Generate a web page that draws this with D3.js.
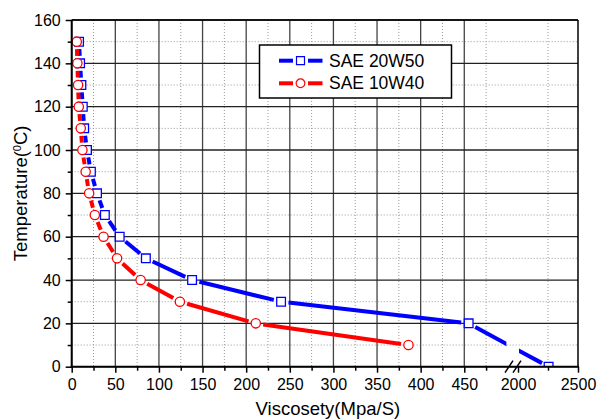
<!DOCTYPE html>
<html>
<head>
<meta charset="utf-8">
<script src="https://cdn.jsdelivr.net/npm/d3@7"></script>
<style>
  body { margin: 0; background: #fff; }
  svg { font-family: "Liberation Sans", Arial, sans-serif; }
</style>
</head>
<body>
<div class="chart"></div>
<script>
// temperature (°C) vs viscosity for the two oils
var temp20w50 = [0, 20, 30, 40, 50, 60, 70, 80, 90, 100, 110, 120, 130, 140, 150];
var visc20w50 = [2255, 455, 240, 138, 85, 55, 38, 29, 22, 17.5, 14.3, 12.7, 11.1, 9.6, 8.4];
var temp10w40 = [10, 20, 30, 40, 50, 60, 70, 80, 90, 100, 110, 120, 130, 140, 150];
var visc10w40 = [386, 211, 124, 79, 52, 36.5, 26.5, 20, 16, 12.3, 10.4, 8.1, 7.3, 6.5, 5.8];

var xMajorLo = [0, 50, 100, 150, 200, 250, 300, 350, 400, 450];
var xMinorLo = [25, 75, 125, 175, 225, 275, 325, 375, 425, 475];
var xMajorHi = [2000, 2500];
var xMinorHi = [2250];
var yMajor = [0, 20, 40, 60, 80, 100, 120, 140, 160];
var yMinor = [10, 30, 50, 70, 90, 110, 130, 150];

var series = [
  {name: "SAE 20W50", color: "#0000ff", symbol: "square", x: visc20w50, y: temp20w50},
  {name: "SAE 10W40", color: "#ff0000", symbol: "circle", x: visc10w40, y: temp10w40}
];

var W = 599, H = 419;
var pL = 71.7, pR = 578, pT = 20, pB = 366.7;
var breakLo = 507.9, breakHi = 518;

var xLo = d3.scaleLinear().domain([0, 500]).range([pL, breakLo]);
var xHi = d3.scaleLinear().domain([2000, 2500]).range([breakHi, pR]);
var xs = function(v) { return v <= 1000 ? xLo(v) : xHi(v); };
var y = d3.scaleLinear().domain([0, 160]).range([pB, pT]);

var svg = d3.select(".chart").append("svg")
    .attr("width", W)
    .attr("height", H);

var defs = svg.append("defs");
defs.append("clipPath").attr("id", "plotclip")
  .append("rect").attr("x", pL).attr("y", pT)
  .attr("width", pR - pL).attr("height", pB - pT);
var bc = defs.append("clipPath").attr("id", "breakclip");
bc.append("rect").attr("x", 0).attr("y", 0).attr("width", breakLo - 1.5).attr("height", H);
bc.append("rect").attr("x", breakHi + 1).attr("y", 0).attr("width", W).attr("height", H);

// grid
var grid = svg.append("g");
xMinorLo.concat(xMinorHi).forEach(function(v) {
  grid.append("line").attr("x1", xs(v)).attr("x2", xs(v)).attr("y1", pT).attr("y2", pB)
    .attr("stroke", "#999").attr("stroke-width", 1).attr("stroke-dasharray", "1,2");
});
yMinor.forEach(function(v) {
  grid.append("line").attr("x1", pL).attr("x2", pR).attr("y1", y(v)).attr("y2", y(v))
    .attr("stroke", "#999").attr("stroke-width", 1).attr("stroke-dasharray", "1,2");
});
xMajorLo.forEach(function(v) {
  grid.append("line").attr("x1", xs(v)).attr("x2", xs(v)).attr("y1", pT).attr("y2", pB)
    .attr("stroke", "#444").attr("stroke-width", 1.3);
});
yMajor.forEach(function(v) {
  grid.append("line").attr("x1", pL).attr("x2", pR).attr("y1", y(v)).attr("y2", y(v))
    .attr("stroke", "#222").attr("stroke-width", 1.3);
});

// top / right frame
svg.append("line").attr("x1", pL).attr("x2", pR).attr("y1", pT).attr("y2", pT)
  .attr("stroke", "#000").attr("stroke-width", 1.5);
svg.append("line").attr("x1", pR).attr("x2", pR).attr("y1", pT).attr("y2", pB)
  .attr("stroke", "#000").attr("stroke-width", 1.5);

// data lines, with a gap round each symbol
var gap = 7.5;
var plot = svg.append("g").attr("clip-path", "url(#plotclip)");
series.forEach(function(s) {
  var pts = s.x.map(function(v, i) { return [xs(v), y(s.y[i])]; });
  var lines = plot.append("g").attr("clip-path", "url(#breakclip)");
  for (var i = 0; i < pts.length - 1; i++) {
    var a = pts[i], b = pts[i + 1];
    var dx = b[0] - a[0], dy = b[1] - a[1], len = Math.sqrt(dx * dx + dy * dy);
    if (len <= 2 * gap) continue;
    var ux = dx / len, uy = dy / len;
    lines.append("line")
      .attr("x1", a[0] + ux * gap).attr("y1", a[1] + uy * gap)
      .attr("x2", b[0] - ux * gap).attr("y2", b[1] - uy * gap)
      .attr("stroke", s.color).attr("stroke-width", 4);
  }
  var sym = d3.symbol().type(s.symbol == "square" ? d3.symbolSquare : d3.symbolCircle)
    .size(s.symbol == "square" ? 76 : 68);
  plot.selectAll(".pt-" + s.symbol)
    .data(pts)
    .enter().append("path")
    .attr("class", "pt-" + s.symbol)
    .attr("transform", function(d) { return "translate(" + d[0] + "," + d[1] + ")"; })
    .attr("d", sym)
    .attr("fill", "#fff")
    .attr("stroke", s.color)
    .attr("stroke-width", 1.3);
});

// axes
function styleAxis(g) {
  g.selectAll("text").style("font-size", "16px").attr("fill", "#000");
  g.selectAll("line").attr("stroke", "#000").attr("stroke-width", 1.5);
  g.select(".domain").remove();
}
svg.append("g").attr("transform", "translate(0," + pB + ")")
  .call(d3.axisBottom(xLo).tickValues(xMajorLo).tickSize(6).tickPadding(6).tickFormat(d3.format("d")))
  .call(styleAxis);
svg.append("g").attr("transform", "translate(0," + pB + ")")
  .call(d3.axisBottom(xLo).tickValues(xMinorLo).tickSize(4).tickFormat(""))
  .call(styleAxis);
svg.append("g").attr("transform", "translate(0," + pB + ")")
  .call(d3.axisBottom(xHi).tickValues(xMajorHi).tickSize(6).tickPadding(6).tickFormat(d3.format("d")))
  .call(styleAxis);
svg.append("g").attr("transform", "translate(0," + pB + ")")
  .call(d3.axisBottom(xHi).tickValues(xMinorHi).tickSize(4).tickFormat(""))
  .call(styleAxis);
svg.append("g").attr("transform", "translate(" + pL + ",0)")
  .call(d3.axisLeft(y).tickValues(yMajor).tickSize(6).tickPadding(5))
  .call(styleAxis);
svg.append("g").attr("transform", "translate(" + pL + ",0)")
  .call(d3.axisLeft(y).tickValues(yMinor).tickSize(4).tickFormat(""))
  .call(styleAxis);

// axis lines with the break marks
svg.append("line").attr("x1", pL).attr("x2", pL).attr("y1", pT).attr("y2", pB + 1)
  .attr("stroke", "#000").attr("stroke-width", 2);
svg.append("line").attr("x1", pL - 1).attr("x2", pR + 1).attr("y1", pB).attr("y2", pB)
  .attr("stroke", "#000").attr("stroke-width", 2);
[509, 517].forEach(function(bx) {
  svg.append("line").attr("x1", bx - 4).attr("x2", bx + 4).attr("y1", pB + 6).attr("y2", pB - 6)
    .attr("stroke", "#000").attr("stroke-width", 1.5);
});

// axis titles
svg.append("text")
  .attr("x", (pL + pR) / 2 + 3).attr("y", 415)
  .attr("text-anchor", "middle")
  .style("font-size", "18.5px")
  .text("Viscosety(Mpa/S)");
var yt = svg.append("text")
  .attr("transform", "translate(27," + ((pT + pB) / 2) + ") rotate(-90)")
  .attr("text-anchor", "middle")
  .style("font-size", "18.5px");
yt.append("tspan").text("Temperature(");
yt.append("tspan").attr("baseline-shift", "super").style("font-size", "11px").text("0");
yt.append("tspan").text("C)");

// legend
var lg = svg.append("g");
lg.append("rect").attr("x", 259.5).attr("y", 45).attr("width", 192).attr("height", 53)
  .attr("fill", "#fff").attr("stroke", "#000").attr("stroke-width", 1.5);
series.forEach(function(s, i) {
  var cy = 60.7 + i * 22.6, cx = 300.5;
  lg.append("line").attr("x1", 279).attr("x2", cx - gap).attr("y1", cy).attr("y2", cy)
    .attr("stroke", s.color).attr("stroke-width", 4);
  lg.append("line").attr("x1", cx + gap).attr("x2", 322.5).attr("y1", cy).attr("y2", cy)
    .attr("stroke", s.color).attr("stroke-width", 4);
  lg.append("path")
    .attr("transform", "translate(" + cx + "," + cy + ")")
    .attr("d", d3.symbol().type(s.symbol == "square" ? d3.symbolSquare : d3.symbolCircle)
      .size(s.symbol == "square" ? 64 : 60))
    .attr("fill", "#fff").attr("stroke", s.color).attr("stroke-width", 1.2);
  lg.append("text").attr("x", 329).attr("y", cy + 6)
    .style("font-size", "17.5px")
    .text(s.name);
});
</script>
</body>
</html>
